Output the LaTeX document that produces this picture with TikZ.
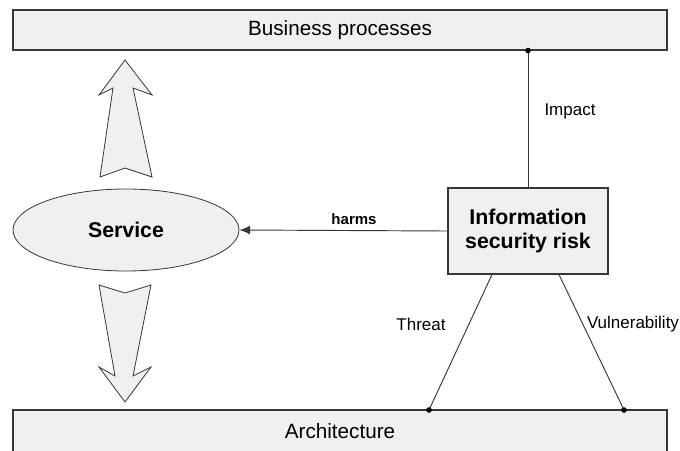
\documentclass[tikz,border=0pt]{standalone}
\usepackage{fontspec}
\setmainfont{Liberation Sans}
\usetikzlibrary{shapes.geometric,arrows.meta}
\definecolor{boxfill}{RGB}{240,240,240}
\definecolor{edgegray}{RGB}{55,55,55}

\tikzset{
  layer/.style={draw=edgegray,fill=boxfill,line width=0.8pt,minimum width=490.5pt,inner sep=0pt,font=\fontsize{15.5}{18}\selectfont},
  riskbox/.style={draw=edgegray,fill=boxfill,line width=0.8pt,minimum width=120pt,minimum height=64.5pt,inner sep=0pt,align=center,font=\bfseries\fontsize{16}{18.5}\selectfont},
  servicenode/.style={ellipse,draw=edgegray,fill=boxfill,line width=0.6pt,minimum width=169.5pt,minimum height=61.5pt,inner sep=0pt,font=\bfseries\fontsize{16}{19}\selectfont},
  link/.style={draw=edgegray,line width=0.7pt},
  linklabel/.style={inner sep=0pt,font=\fontsize{12.75}{15}\selectfont},
  bigarrow/.style={draw=edgegray,fill=boxfill,line width=0.6pt,line join=miter},
  dot/.style={fill=black}
}

\begin{document}
\begin{tikzpicture}[x=0.75pt,y=0.75pt,yscale=-1,xscale=1]
\useasboundingbox (0,0) rectangle (680,450);

% layers
\node [layer,minimum height=30pt] (bp) at (340,30) {Business processes};
\node [layer,minimum height=31.5pt] (arch) at (340,431) {Architecture};

% risk and service
\node [riskbox] (risk) at (528,231) {Information\\security risk};
\node [servicenode] (srv) at (126,230) {Service};

% end points on the layers
\coordinate (imp) at (risk.north |- bp.south);
\coordinate (thr) at (429,410);
\coordinate (vul) at (624,410);

%Straight Lines
\draw [link] (risk.north) -- (imp);
\draw [link] ([xshift=-27pt]risk.south) -- (thr);
\draw [link] ([xshift=23.25pt]risk.south) -- (vul);
\draw [link,-{Latex[length=8pt,width=6.5pt]}] (risk.west) -- (srv.east);

\fill [dot] (imp) circle (2.1pt);
\fill [dot] (thr) circle (2.1pt);
\fill [dot] (vul) circle (2.1pt);

%Block arrows
\draw [bigarrow] (125,60) -- (152,95) -- (133,88) -- (152,177) -- (125,168) -- (100,177) -- (113,88) -- (99,95) -- cycle;
\draw [bigarrow] (99,285) -- (125,293) -- (151,285) -- (133,376) -- (151,367) -- (125,402) -- (99,367) -- (115,376) -- cycle;

% Text Node
\node [linklabel,font=\bfseries\fontsize{11.25}{13}\selectfont] (harmslbl) at (354,219) {harms};
\node [linklabel] (implbl) at (570,111) {Impact};
\node [linklabel] (thrlbl) at (421,324) {Threat};
\node [linklabel] (vullbl) at (633,324) {Vulnerability};

\end{tikzpicture}
\end{document}
